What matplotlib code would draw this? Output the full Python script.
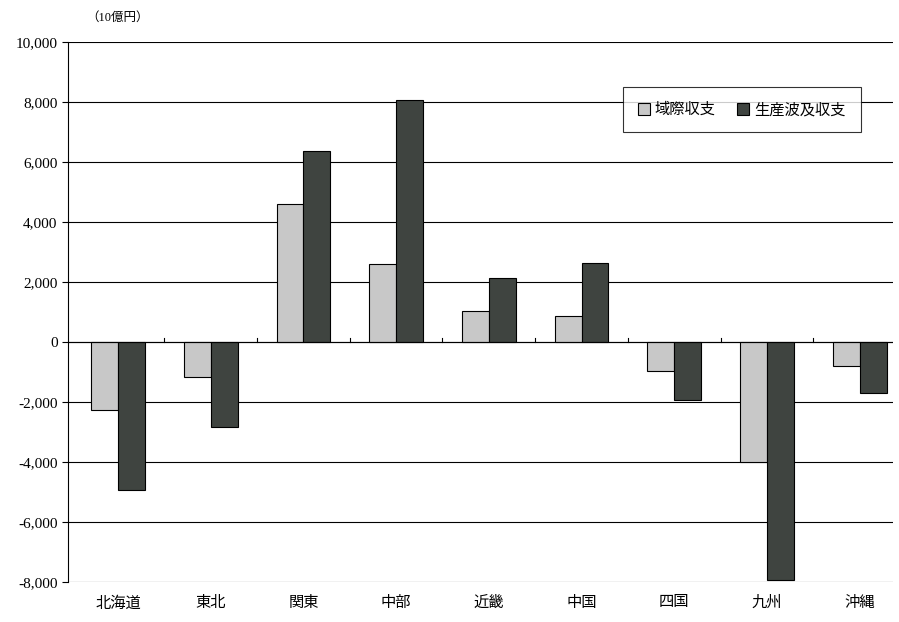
import matplotlib
matplotlib.use("Agg")
import matplotlib.pyplot as plt
import numpy as np

plt.rcParams['font.family'] = ['Liberation Serif', 'Noto Sans CJK JP']

categories = ['北海道', '東北', '関東', '中部', '近畿', '中国', '四国', '九州', '沖縄']
kiiki = [-2270, -1170, 4600, 2600, 1030, 870, -970, -4000, -800]
seisan = [-4930, -2830, 6370, 8070, 2130, 2630, -1930, -7930, -1700]
yticks = list(range(-8000, 10001, 2000))

fig = plt.figure(figsize=(8.99, 6.22), dpi=100)
ax = fig.add_axes([68/899, 40/622, 825/899, 540/622])
x = np.arange(len(categories))
w = 0.29
ax.bar(x - w/2, kiiki, w, color='#c8c8c8', edgecolor='black', linewidth=0.8, label='域際収支', zorder=3)
ax.bar(x + w/2, seisan, w, color='#3f4440', edgecolor='black', linewidth=0.8, label='生産波及収支', zorder=3)
ax.set_xlim(-0.54, 8.36)
ax.set_ylim(-8000, 10000)
ax.set_yticks(yticks)
ax.set_yticklabels([f'{v:,}' for v in yticks], fontsize=11)
ax.yaxis.grid(True, color='black', linewidth=0.8, zorder=0)
ax.axhline(0, color='black', linewidth=0.8, zorder=4)
ax.set_xticks(x)
ax.set_xticklabels(categories, fontsize=11)
ax.tick_params(axis='x', length=0, pad=10)
ax.tick_params(axis='y', length=4, direction='out')
for s in ['top', 'right', 'bottom']:
    ax.spines[s].set_visible(False)
for b in np.arange(0.5, len(categories) - 0.5):
    ax.plot([b, b], [0, 150], color='black', linewidth=0.8, zorder=4)
leg = ax.legend(loc='upper right', bbox_to_anchor=(0.97, 0.93), ncol=2, fontsize=11,
                frameon=True, fancybox=False, edgecolor='black', handlelength=0.8,
                handleheight=0.8, columnspacing=1.4, borderpad=1.0, handletextpad=0.3)
leg.get_frame().set_linewidth(0.8)
fig.text(118/899, 1 - 18/622, '（10億円）', fontsize=9, ha='center', va='center')
fig.savefig('out.png', dpi=100)
